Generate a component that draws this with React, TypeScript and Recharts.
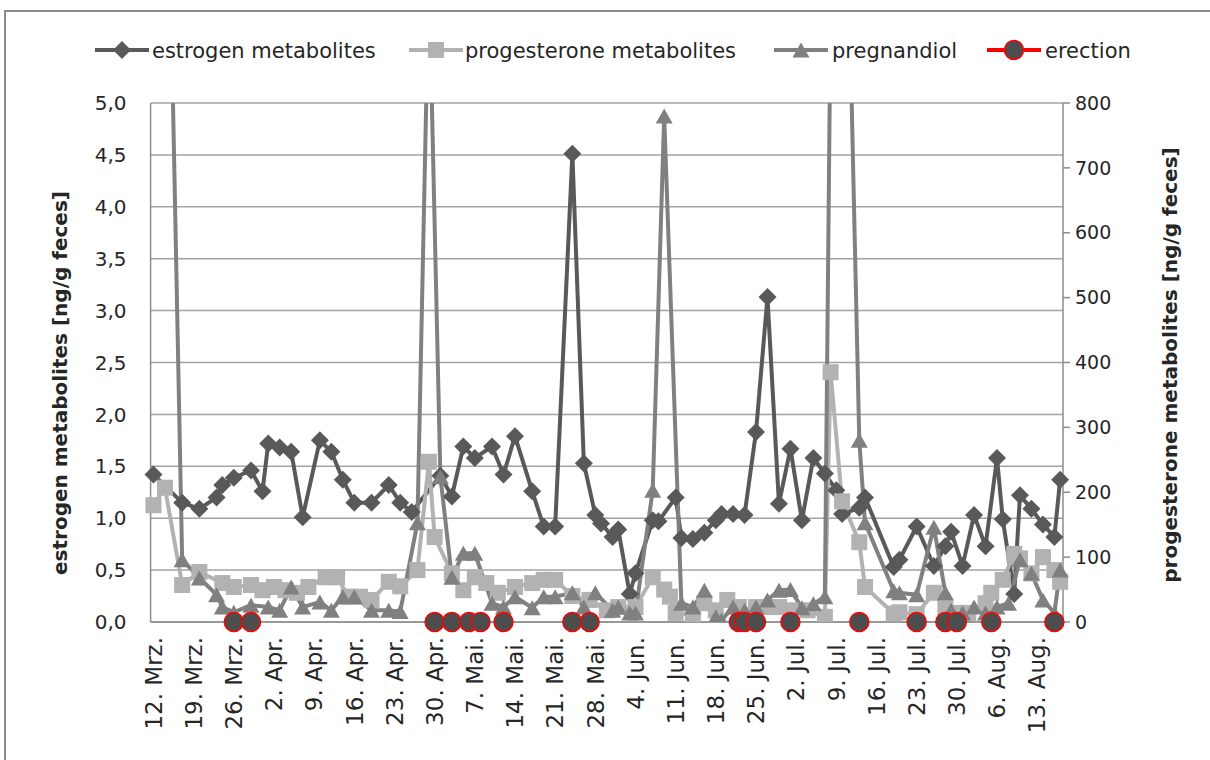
import React from 'react';
import { LineChart, Line, XAxis, YAxis, CartesianGrid } from 'recharts';

const FONT = '"DejaVu Sans", Verdana, sans-serif';

// x positions are days counted from 12 March
const xTickLabels = [
  '12. Mrz.', '19. Mrz.', '26. Mrz.', '2. Apr.', '9. Apr.', '16. Apr.', '23. Apr.', '30. Apr.',
  '7. Mai.', '14. Mai.', '21. Mai.', '28. Mai.', '4. Jun.', '11. Jun.', '18. Jun.', '25. Jun.',
  '2. Jul.', '9. Jul.', '16. Jul.', '23. Jul.', '30. Jul.', '6. Aug.', '13. Aug.',
];
const xTicks = xTickLabels.map((_, i) => i * 7);

const leftTicks = [0, 0.5, 1, 1.5, 2, 2.5, 3, 3.5, 4, 4.5, 5];
const rightTicks = [0, 100, 200, 300, 400, 500, 600, 700, 800];

const estrogenDays = [
  0, 5, 8, 11, 12, 14, 17, 19, 20, 22, 24, 26, 29, 31, 33, 35, 38, 41, 43, 45,
  50, 52, 54, 56, 59, 61, 63, 66, 68, 70, 73, 75, 77, 78, 80, 81, 83, 84, 87, 88,
  91, 92, 94, 96, 98, 99, 101, 103, 105, 107, 109, 111, 113, 115, 117, 119, 120, 123, 124, 129,
  130, 133, 136, 138, 139, 141, 143, 145, 147, 148, 150, 151, 153, 155, 157, 158,
];
const estrogenValues = [
  1.42, 1.15, 1.09, 1.2, 1.32, 1.39, 1.46, 1.26, 1.72, 1.68, 1.64, 1.01, 1.75, 1.64, 1.37, 1.15, 1.15, 1.32, 1.15, 1.06,
  1.41, 1.21, 1.69, 1.58, 1.69, 1.42, 1.79, 1.26, 0.92, 0.92, 4.51, 1.53, 1.03, 0.95, 0.82, 0.89, 0.27, 0.47, 0.98, 0.97,
  1.2, 0.81, 0.8, 0.86, 0.98, 1.04, 1.04, 1.03, 1.83, 3.13, 1.14, 1.67, 0.98, 1.58, 1.43, 1.27, 1.04, 1.1, 1.2, 0.53,
  0.6, 0.92, 0.54, 0.73, 0.87, 0.54, 1.03, 0.73, 1.58, 0.99, 0.27, 1.22, 1.09, 0.94, 0.82, 1.37,
];

const progesteroneDays = [
  0, 2, 5, 8, 12, 14, 17, 19, 21, 23, 25, 27, 30, 32, 34, 36, 38, 41, 43, 46,
  48, 49, 52, 54, 56, 58, 60, 63, 66, 68, 70, 73, 76, 79, 81, 84, 87, 89, 90, 91,
  94, 96, 98, 100, 102, 103, 105, 107, 109, 111, 114, 117, 118, 120, 123, 124, 129, 130, 133, 136,
  138, 140, 142, 145, 146, 148, 150, 151, 153, 155, 157, 158,
];
const progesteroneValues = [
  180, 207, 57, 77, 60, 54, 57, 49, 54, 49, 45, 54, 69, 69, 39, 39, 34, 62, 55, 80,
  247, 131, 75, 49, 69, 60, 45, 54, 60, 65, 65, 40, 34, 18, 23, 23, 69, 50, 39, 14,
  11, 29, 18, 34, 23, 8, 23, 23, 23, 18, 18, 8, 385, 186, 123, 54, 13, 15, 12, 45,
  23, 14, 14, 29, 45, 65, 105, 98, 75, 100, 80, 62,
];

const pregnandiolDays = [
  0, 5, 8, 11, 12, 14, 17, 20, 22, 24, 26, 29, 31, 33, 35, 38, 41, 43, 46, 48,
  50, 52, 54, 56, 59, 61, 63, 66, 68, 70, 73, 75, 77, 80, 81, 83, 84, 87, 89, 92,
  94, 96, 98, 99, 101, 103, 105, 107, 109, 111, 113, 115, 117, 119, 123, 124, 129, 130, 133, 136,
  138, 139, 141, 143, 145, 147, 149, 151, 153, 155, 157, 158,
];
const pregnandiolValues = [
  2300, 96, 68, 42, 23, 15, 26, 23, 18, 54, 23, 31, 18, 39, 39, 18, 18, 16, 153, 1000,
  224, 69, 106, 106, 29, 23, 39, 22, 39, 39, 45, 23, 45, 18, 23, 14, 14, 203, 780, 29,
  23, 49, 8, 3, 23, 18, 23, 34, 49, 50, 22, 28, 39, 1850, 280, 153, 48, 45, 42, 146,
  45, 18, 14, 23, 14, 23, 29, 96, 75, 34, 14, 80,
];

const erectionDays = [14, 17, 49, 52, 55, 57, 61, 73, 76, 102, 103, 105, 111, 123, 133, 138, 140, 146, 157];

const toPoints = (days: number[], values: number[]) => days.map((day, i) => ({ day, value: values[i] }));

const estrogenData = toPoints(estrogenDays, estrogenValues);
const progesteroneData = toPoints(progesteroneDays, progesteroneValues);
const pregnandiolData = toPoints(pregnandiolDays, pregnandiolValues);
const erectionData = erectionDays.map((day) => ({ day, value: 0 }));

const C_ESTROGEN = '#595959';
const C_PROGESTERONE = '#b2b2b2';
const C_PREGNANDIOL = '#808080';
const C_EREC_FILL = '#4d4d4d';
const C_EREC_LINE = '#ff0000';

const diamond = (cx: number, cy: number, s: number) =>
  `${cx},${cy - s} ${cx + s},${cy} ${cx},${cy + s} ${cx - s},${cy}`;
const triangle = (cx: number, cy: number, w: number, h: number) =>
  `${cx},${cy - h / 2} ${cx + w / 2},${cy + h / 2} ${cx - w / 2},${cy + h / 2}`;

const DiamondDot = (props: any) => {
  const { cx, cy, index } = props;
  if (cx == null || cy == null) return <g key={`d-${index}`} />;
  return <polygon key={`d-${index}`} points={diamond(cx, cy, 9)} fill={C_ESTROGEN} />;
};

const SquareDot = (props: any) => {
  const { cx, cy, index } = props;
  if (cx == null || cy == null) return <g key={`s-${index}`} />;
  return <rect key={`s-${index}`} x={cx - 8} y={cy - 8} width={16} height={16} fill={C_PROGESTERONE} />;
};

const TriangleDot = (props: any) => {
  const { cx, cy, index } = props;
  if (cx == null || cy == null) return <g key={`t-${index}`} />;
  return <polygon key={`t-${index}`} points={triangle(cx, cy, 17, 15)} fill={C_PREGNANDIOL} />;
};

const CircleDot = (props: any) => {
  const { cx, cy, index } = props;
  if (cx == null || cy == null) return <g key={`c-${index}`} />;
  return <circle key={`c-${index}`} cx={cx} cy={cy} r={9.5} fill={C_EREC_FILL} stroke={C_EREC_LINE} strokeWidth={1.5} />;
};

const DateTick = ({ x, y, payload }: any) => (
  <text
    transform={`translate(${x},${y}) rotate(-90)`}
    textAnchor="end"
    dy="0.36em"
    fontSize={23}
    fontFamily={FONT}
    fill="#262626"
  >
    {xTickLabels[Math.round(payload.value / 7)]}
  </text>
);

const legendItems = [
  { label: 'estrogen metabolites', color: C_ESTROGEN, marker: 'diamond', cx: 122, tx: 152 },
  { label: 'progesterone metabolites', color: C_PROGESTERONE, marker: 'square', cx: 436, tx: 465 },
  { label: 'pregnandiol', color: C_PREGNANDIOL, marker: 'triangle', cx: 801, tx: 832 },
  { label: 'erection', color: C_EREC_LINE, marker: 'circle', cx: 1014, tx: 1045 },
];

const ChartLegend = () => (
  <svg width={1210} height={100} style={{ position: 'absolute', left: 0, top: 0 }}>
    {legendItems.map((item) => (
      <g key={item.label}>
        <line x1={item.cx - 27} x2={item.cx + 27} y1={50} y2={50} stroke={item.color} strokeWidth={4} />
        {item.marker === 'diamond' && <polygon points={diamond(item.cx, 50, 9)} fill={C_ESTROGEN} />}
        {item.marker === 'square' && <rect x={item.cx - 8} y={42} width={16} height={16} fill={C_PROGESTERONE} />}
        {item.marker === 'triangle' && <polygon points={triangle(item.cx, 50, 17, 15)} fill={C_PREGNANDIOL} />}
        {item.marker === 'circle' && (
          <circle cx={item.cx} cy={50} r={9.5} fill={C_EREC_FILL} stroke={C_EREC_LINE} strokeWidth={1.5} />
        )}
        <text x={item.tx} y={50} dy="0.36em" fontSize={21} fontFamily={FONT} fill="#262626">
          {item.label}
        </text>
      </g>
    ))}
  </svg>
);

const AxisTitles = () => (
  <svg width={1210} height={760} style={{ position: 'absolute', left: 0, top: 0, pointerEvents: 'none' }}>
    <text
      transform="translate(60,383) rotate(-90)"
      textAnchor="middle"
      dy="0.36em"
      fontSize={20}
      fontWeight="bold"
      fontFamily={FONT}
      fill="#262626"
    >
      estrogen metabolites [ng/g feces]
    </text>
    <text
      transform="translate(1170,365) rotate(-90)"
      textAnchor="middle"
      dy="0.36em"
      fontSize={20}
      fontWeight="bold"
      fontFamily={FONT}
      fill="#262626"
    >
      progesterone metabolites [ng/g feces]
    </text>
  </svg>
);

export default function App() {
  return (
    <div
      style={{
        position: 'absolute',
        left: 0,
        top: 0,
        width: 1210,
        height: 760,
        overflow: 'hidden',
        background: '#ffffff',
        fontFamily: FONT,
      }}
    >
      <div
        style={{
          position: 'absolute',
          left: 4,
          top: 10,
          width: 1210,
          height: 760,
          borderTop: '2px solid #8c8c8c',
          borderLeft: '2px solid #8c8c8c',
        }}
      />
      <ChartLegend />
      <div style={{ position: 'absolute', left: 0, top: 0 }}>
        <LineChart width={1210} height={760} margin={{ top: 103, right: 87, bottom: 18, left: 80.6 }}>
          <CartesianGrid yAxisId="left" vertical={false} stroke="#a3a3a3" strokeWidth={1.5} />
          <XAxis
            dataKey="day"
            type="number"
            domain={[-0.5, 158.5]}
            ticks={xTicks}
            interval={0}
            height={120}
            tickSize={0}
            tickMargin={15}
            tickLine={false}
            axisLine={{ stroke: '#8c8c8c', strokeWidth: 1.5 }}
            tick={<DateTick />}
          />
          <YAxis
            yAxisId="left"
            domain={[0, 5]}
            ticks={leftTicks}
            width={70}
            tickSize={0}
            tickMargin={24}
            tickLine={false}
            axisLine={{ stroke: '#8c8c8c', strokeWidth: 1.5 }}
            tickFormatter={(v: number) => v.toFixed(1).replace('.', ',')}
            tick={{ fontSize: 20, fontFamily: FONT, fill: '#262626' }}
          />
          <YAxis
            yAxisId="right"
            orientation="right"
            domain={[0, 800]}
            allowDataOverflow
            ticks={rightTicks}
            width={60}
            tickSize={7}
            tickMargin={5}
            tickLine={{ stroke: '#8c8c8c', strokeWidth: 1.5 }}
            axisLine={{ stroke: '#8c8c8c', strokeWidth: 1.5 }}
            tick={{ fontSize: 19, fontFamily: FONT, fill: '#262626', textAnchor: 'start' }}
          />
          <Line
            yAxisId="left"
            data={estrogenData}
            dataKey="value"
            type="linear"
            stroke={C_ESTROGEN}
            strokeWidth={4}
            dot={DiamondDot}
            activeDot={false}
            isAnimationActive={false}
          />
          <Line
            yAxisId="right"
            data={progesteroneData}
            dataKey="value"
            type="linear"
            stroke={C_PROGESTERONE}
            strokeWidth={4}
            dot={SquareDot}
            activeDot={false}
            isAnimationActive={false}
          />
          <Line
            yAxisId="right"
            data={pregnandiolData}
            dataKey="value"
            type="linear"
            stroke={C_PREGNANDIOL}
            strokeWidth={4}
            dot={TriangleDot}
            activeDot={false}
            isAnimationActive={false}
          />
          <Line
            yAxisId="left"
            data={erectionData}
            dataKey="value"
            type="linear"
            stroke="none"
            dot={CircleDot}
            activeDot={false}
            isAnimationActive={false}
          />
        </LineChart>
      </div>
      <AxisTitles />
    </div>
  );
}
